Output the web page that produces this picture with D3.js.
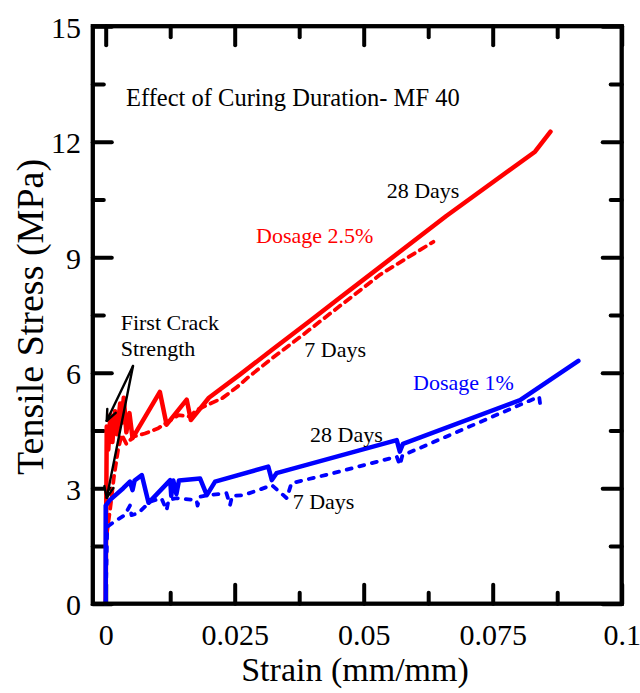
<!DOCTYPE html>
<html>
<head>
<meta charset="utf-8">
<script src="https://cdn.jsdelivr.net/npm/d3@7"></script>
<style>
  html, body { margin: 0; padding: 0; background: #fff; }
  svg { display: block; }
  text { font-family: "Liberation Serif", "Times New Roman", serif; }
</style>
</head>
<body>
<svg id="chart" width="640" height="693"></svg>
<script>
// Tensile stress-strain curves, MF 40, two fibre dosages at 7 and 28 days of curing.
// Each series: strain (mm/mm) and tensile stress (MPa).
const red28Strain = [0, 0.0002, 0.0005, 0.0009, 0.0013, 0.0018, 0.0022, 0.0028, 0.0031, 0.0035, 0.0040, 0.0046, 0.0052, 0.0105, 0.0118, 0.0157, 0.0165, 0.0200, 0.0260, 0.0320, 0.0400, 0.0450, 0.0530, 0.0660, 0.0832, 0.0862];
const red28Stress = [0, 4.60, 4.00, 4.90, 4.20, 5.00, 4.40, 5.20, 4.70, 5.35, 4.45, 4.95, 4.30, 5.50, 4.65, 5.30, 4.77, 5.35, 5.95, 6.57, 7.39, 7.91, 8.73, 10.07, 11.74, 12.26];

const red7Strain = [0.0002, 0.0009, 0.0016, 0.0024, 0.0031, 0.0040, 0.0054, 0.0076, 0.0102, 0.0141, 0.0163, 0.0176, 0.0226, 0.0254, 0.0276, 0.0325, 0.0377, 0.0419, 0.0467, 0.0532, 0.0635];
const red7Stress = [1.80, 2.50, 3.30, 4.00, 4.39, 4.15, 4.34, 4.42, 4.56, 4.90, 4.86, 5.03, 5.34, 5.62, 5.88, 6.40, 6.93, 7.37, 7.87, 8.55, 9.40];

const blue28Strain = [0, 0, 0.0008, 0.0034, 0.0047, 0.0052, 0.0056, 0.0070, 0.0083, 0.0125, 0.0127, 0.0131, 0.0137, 0.0142, 0.0183, 0.0196, 0.0212, 0.0315, 0.0322, 0.0331, 0.0564, 0.0570, 0.0576, 0.0803, 0.0916];
const blue28Stress = [0, 2.55, 2.69, 3.00, 3.17, 2.95, 3.20, 3.34, 2.62, 3.21, 2.80, 3.20, 2.85, 3.20, 3.25, 2.82, 3.17, 3.56, 3.21, 3.39, 4.25, 3.95, 4.15, 5.29, 6.31];

const blue7Strain = [0, 0.0003, 0.0021, 0.0037, 0.0047, 0.0050, 0.0063, 0.0086, 0.0108, 0.0118, 0.0122, 0.0138, 0.0176, 0.0178, 0.0183, 0.0199, 0.0234, 0.0241, 0.0245, 0.0267, 0.0296, 0.0322, 0.0351, 0.0360, 0.0441, 0.0564, 0.0570, 0.0575, 0.0840, 0.0842];
const blue7Stress = [0, 2.00, 2.17, 2.30, 2.55, 2.30, 2.35, 2.65, 2.74, 2.43, 2.70, 2.74, 2.69, 2.55, 2.78, 2.82, 2.87, 2.56, 2.80, 2.82, 2.95, 3.08, 2.74, 3.13, 3.39, 3.82, 3.60, 3.85, 5.38, 5.18];

const xMajorTicks = [0, 0.025, 0.05, 0.075, 0.1];
const xTickLabels = ["0", "0.025", "0.05", "0.075", "0.1"];
const xMinorTicks = [0.0125, 0.0375, 0.0625, 0.0875];
const yMajorTicks = [0, 3, 6, 9, 12, 15];
const yMinorTicks = [1.5, 4.5, 7.5, 10.5, 13.5];

const svg = d3.select("#chart");
const plotLeft = 92.8, plotRight = 621.7, plotTop = 26.2, plotBottom = 603.7;

const x = d3.scaleLinear().domain([-0.0025, 0.1]).range([plotLeft, plotRight]);
const y = d3.scaleLinear().domain([0, 15]).range([plotBottom, plotTop]);

const serif = '"Liberation Serif", "Times New Roman", serif';

// ---- axes: inward ticks on all four sides ----
function styleTicks(g, w) {
  g.select(".domain").remove();
  g.selectAll(".tick line").attr("stroke", "#000").attr("stroke-width", w).attr("stroke-linecap", "round");
}

svg.append("g").attr("transform", `translate(0,${plotBottom})`)
  .call(d3.axisBottom(x).tickValues(xMajorTicks).tickSize(-19).tickFormat((d, i) => xTickLabels[i]))
  .call(g => {
    styleTicks(g, 4);
    g.selectAll(".tick text").attr("y", 41.3).attr("dy", null)
      .attr("fill", "#000").attr("font-size", 30).attr("font-family", serif);
  });
svg.append("g").attr("transform", `translate(0,${plotBottom})`)
  .call(d3.axisBottom(x).tickValues(xMinorTicks).tickSize(-11).tickFormat(""))
  .call(g => styleTicks(g, 4));
svg.append("g").attr("transform", `translate(0,${plotTop})`)
  .call(d3.axisTop(x).tickValues(xMajorTicks).tickSize(-19).tickFormat(""))
  .call(g => styleTicks(g, 4));
svg.append("g").attr("transform", `translate(0,${plotTop})`)
  .call(d3.axisTop(x).tickValues(xMinorTicks).tickSize(-11).tickFormat(""))
  .call(g => styleTicks(g, 4));

svg.append("g").attr("transform", `translate(${plotLeft},0)`)
  .call(d3.axisLeft(y).tickValues(yMajorTicks).tickSize(-19).tickFormat(d3.format("d")))
  .call(g => {
    styleTicks(g, 4);
    g.selectAll(".tick text").attr("x", -11.8).attr("dy", null).attr("y", 11)
      .attr("fill", "#000").attr("font-size", 30).attr("font-family", serif);
  });
svg.append("g").attr("transform", `translate(${plotLeft},0)`)
  .call(d3.axisLeft(y).tickValues(yMinorTicks).tickSize(-11).tickFormat(""))
  .call(g => styleTicks(g, 4));
svg.append("g").attr("transform", `translate(${plotRight},0)`)
  .call(d3.axisRight(y).tickValues(yMajorTicks).tickSize(-19).tickFormat(""))
  .call(g => styleTicks(g, 4));
svg.append("g").attr("transform", `translate(${plotRight},0)`)
  .call(d3.axisRight(y).tickValues(yMinorTicks).tickSize(-11).tickFormat(""))
  .call(g => styleTicks(g, 4));

// ---- curves (drawn over the tick marks) ----
const line = d3.line().x(d => x(d[0])).y(d => y(d[1]));
const pairs = (xs, ys) => xs.map((v, i) => [v, ys[i]]);

const curves = [
  { data: pairs(red7Strain, red7Stress), color: "#ff0000", width: 3.8, dash: "7,6" },
  { data: pairs(red28Strain, red28Stress), color: "#ff0000", width: 4.5, dash: null },
  { data: pairs(blue7Strain, blue7Stress), color: "#0000ff", width: 3.8, dash: "5,8" },
  { data: pairs(blue28Strain, blue28Stress), color: "#0000ff", width: 4.5, dash: null }
];

svg.append("g").selectAll("path").data(curves).join("path")
  .attr("d", d => line(d.data))
  .attr("fill", "none")
  .attr("stroke", d => d.color)
  .attr("stroke-width", d => d.width)
  .attr("stroke-linejoin", "round")
  .attr("stroke-linecap", "round")
  .attr("stroke-dasharray", d => d.dash);

// frame
svg.append("rect")
  .attr("x", plotLeft).attr("y", plotTop)
  .attr("width", plotRight - plotLeft).attr("height", plotBottom - plotTop)
  .attr("fill", "none").attr("stroke", "#000").attr("stroke-width", 4.3);

// ---- axis titles ----
svg.append("text")
  .attr("x", 355).attr("y", 681)
  .attr("text-anchor", "middle").attr("font-size", 34)
  .text("Strain (mm/mm)");
svg.append("text")
  .attr("transform", "translate(43,317) rotate(-90)")
  .attr("text-anchor", "middle").attr("font-size", 38)
  .text("Tensile Stress (MPa)");

// ---- annotations ----
const notes = [
  { t: "Effect of Curing Duration- MF 40", x: 126, y: 106, size: 24.5, c: "#000" },
  { t: "First Crack", x: 120.7, y: 329.5, size: 22, c: "#000" },
  { t: "Strength", x: 120.7, y: 356, size: 22, c: "#000" },
  { t: "28 Days", x: 386.7, y: 198, size: 22, c: "#000" },
  { t: "Dosage 2.5%", x: 256, y: 243, size: 22, c: "#ff0000" },
  { t: "7 Days", x: 304.3, y: 357, size: 22, c: "#000" },
  { t: "Dosage 1%", x: 413, y: 390, size: 22, c: "#0000ff" },
  { t: "28 Days", x: 310, y: 442, size: 22, c: "#000" },
  { t: "7 Days", x: 292.7, y: 509, size: 22, c: "#000" }
];
svg.append("g").selectAll("text").data(notes).join("text")
  .attr("x", d => d.x).attr("y", d => d.y)
  .attr("font-size", d => d.size).attr("fill", d => d.c)
  .text(d => d.t);

// first-crack arrows pointing at the two curves
const arrowFrom = [133, 366];
const arrowTips = [[0.0002, 4.75], [0.0002, 2.75]];
const arrows = svg.append("g").attr("stroke", "#000").attr("stroke-width", 2.4)
  .attr("fill", "none").attr("stroke-linecap", "round");
arrowTips.forEach(t => {
  const tx = x(t[0]), ty = y(t[1]);
  arrows.append("line").attr("x1", arrowFrom[0]).attr("y1", arrowFrom[1]).attr("x2", tx).attr("y2", ty);
  const ang = Math.atan2(arrowFrom[1] - ty, arrowFrom[0] - tx);
  const len = 12, spread = 0.4;
  [ang - spread, ang + spread].forEach(a => {
    arrows.append("line").attr("x1", tx).attr("y1", ty)
      .attr("x2", tx + len * Math.cos(a)).attr("y2", ty + len * Math.sin(a));
  });
});
</script>
</body>
</html>
